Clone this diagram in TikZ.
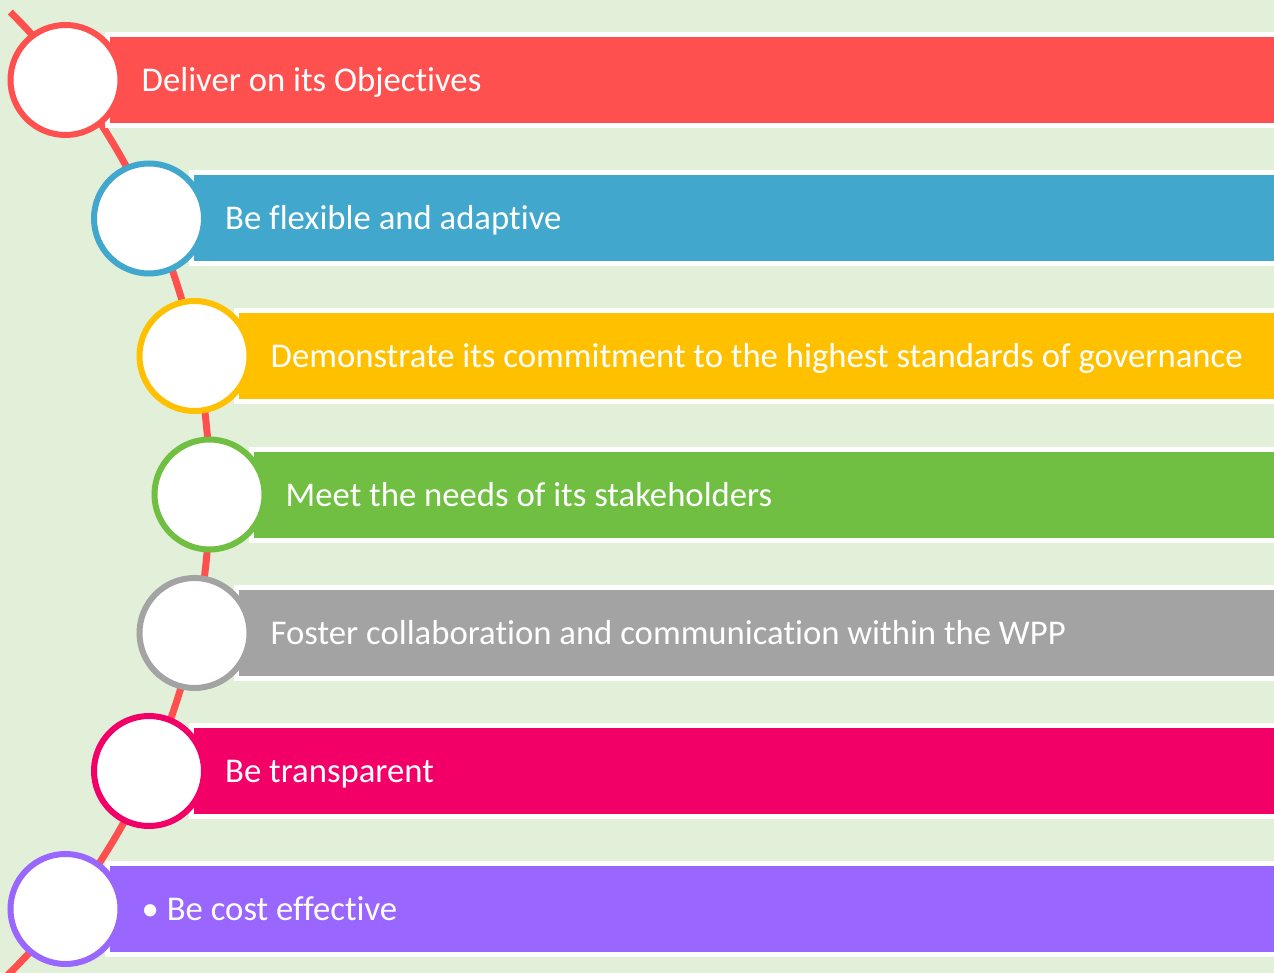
\documentclass[tikz,border=0pt]{standalone}
\usepackage{fontspec}
\setmainfont{Carlito}[Ligatures={NoCommon}]
\usepackage{xcolor}
\usepackage{tikz}
\usetikzlibrary{positioning}

\definecolor{bgGreen}{HTML}{E2F0D9}
\definecolor{objRed}{HTML}{FF5050}
\definecolor{objBlue}{HTML}{41A7CD}
\definecolor{objYellow}{HTML}{FFC000}
\definecolor{objGreen}{HTML}{70BF42}
\definecolor{objGray}{HTML}{A3A3A3}
\definecolor{objPink}{HTML}{F20068}
\definecolor{objPurple}{HTML}{9966FF}

\tikzset{
    bar/.style={fill=#1, draw=white, line width=5pt},
    ring/.style={circle, draw=#1, fill=white, line width=6pt, minimum size=110pt, inner sep=0pt},
    bartext/.style={text=white, inner sep=0pt, text height=23pt, text depth=0pt, anchor=west,
        font=\fontsize{34.7}{40}\selectfont},
}

\begin{document}
\begin{tikzpicture}[x=1pt, y=-1pt]
    % Background
    \fill[bgGreen] (0,0) rectangle (1274,973);
    \useasboundingbox (0,0) rectangle (1274,973);

    % Timeline curve
    \draw[objRed, line width=7pt] (10.3,12) arc[start angle=-45.1, end angle=50, radius=678];

    % Bars
    \draw[bar=objRed]    (107.5,34.5)  rectangle (1276,125.5);
    \draw[bar=objBlue]   (191,173)     rectangle (1276,264);
    \draw[bar=objYellow] (236.5,310.5) rectangle (1276,401.5);
    \draw[bar=objGreen]  (251.5,449)   rectangle (1276,540);
    \draw[bar=objGray]   (236.5,587.5) rectangle (1276,678.5);
    \draw[bar=objPink]   (191,725.5)   rectangle (1276,816.5);
    \draw[bar=objPurple] (107.5,863.5) rectangle (1276,954.5);

    % Circles
    \node[ring=objRed]    (c1) at (65.5,80)    {};
    \node[ring=objBlue]   (c2) at (149,218.5)  {};
    \node[ring=objYellow] (c3) at (194.5,356)  {};
    \node[ring=objGreen]  (c4) at (209.5,494.5){};
    \node[ring=objGray]   (c5) at (194.5,633)  {};
    \node[ring=objPink]   (c6) at (149,771)    {};
    \node[ring=objPurple] (c7) at (65.5,909)   {};

    % Labels
    \node[bartext, right=18pt of c1] (t1) {Deliver on its Objectives};
    \node[bartext, right=18pt of c2] (t2) {Be flexible and adaptive};
    \node[bartext, right=18pt of c3] (t3) {Demonstrate its commitment to the highest standards of governance};
    \node[bartext, right=18pt of c4] (t4) {Meet the needs of its stakeholders};
    \node[bartext, right=18pt of c5] (t5) {Foster collaboration and communication within the WPP};
    \node[bartext, right=18pt of c6] (t6) {Be transparent};
    \node[bartext, right=18pt of c7] (t7) {• Be cost effective};
\end{tikzpicture}
\end{document}
